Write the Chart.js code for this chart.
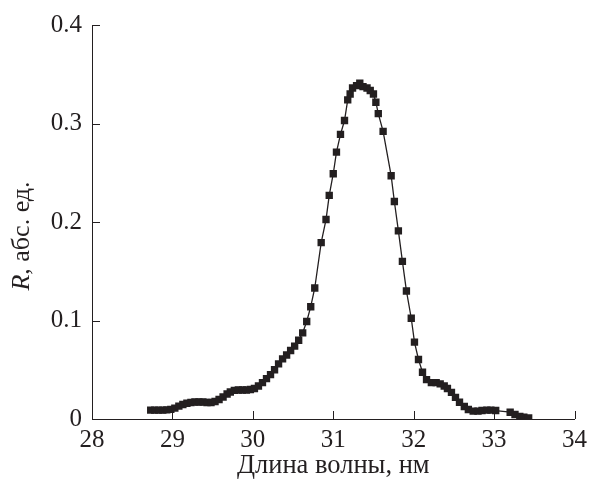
<!DOCTYPE html>
<html>
<head>
<meta charset="utf-8">
<script src="https://cdn.jsdelivr.net/npm/chart.js@4"></script>
<style>
  html, body { margin: 0; padding: 0; background: #fff; }
  #chart { display: block; }
</style>
</head>
<body>
<canvas id="chart" width="593" height="479"></canvas>
<script>
// wavelength, nm
var wavelength = [
    28.73, 28.78, 28.83, 28.88, 28.93, 28.98, 29.03, 29.08, 29.13, 29.18,
    29.23, 29.28, 29.33, 29.38, 29.43, 29.48, 29.53, 29.58, 29.63, 29.68,
    29.72, 29.77, 29.82, 29.87, 29.92, 29.97, 30.02, 30.07, 30.12, 30.17,
    30.22, 30.27, 30.32, 30.37, 30.42, 30.47, 30.52, 30.57, 30.62, 30.67,
    30.72, 30.77, 30.85, 30.91, 30.95, 31.00, 31.04, 31.09, 31.14, 31.18,
    31.21, 31.24, 31.29, 31.33, 31.37, 31.42, 31.46, 31.50, 31.53, 31.56,
    31.62, 31.72, 31.76, 31.81, 31.86, 31.91, 31.97, 32.01, 32.06, 32.11,
    32.16, 32.22, 32.28, 32.33, 32.38, 32.42, 32.47, 32.52, 32.57, 32.63,
    32.68, 32.74, 32.80, 32.85, 32.91, 32.96, 33.02, 33.20, 33.26, 33.32,
    33.37, 33.43
];
// reflectance R, arb. units
var reflectance = [
    0.009, 0.009, 0.009, 0.009, 0.0092, 0.0097, 0.011, 0.013, 0.0147, 0.016,
    0.0168, 0.0173, 0.0173, 0.0173, 0.0168, 0.0168, 0.0178, 0.0198, 0.0223, 0.0254,
    0.0274, 0.029, 0.0294, 0.0294, 0.0294, 0.030, 0.031, 0.0335, 0.037, 0.041,
    0.045, 0.050, 0.056, 0.061, 0.065, 0.0695, 0.074, 0.080, 0.0875, 0.099,
    0.114, 0.133, 0.179, 0.2025, 0.227, 0.249, 0.271, 0.289, 0.303, 0.324,
    0.330, 0.336, 0.3385, 0.341, 0.3375, 0.336, 0.3335, 0.330, 0.3216, 0.310,
    0.292, 0.247, 0.2208, 0.191, 0.160, 0.130, 0.1023, 0.078, 0.0604, 0.0475,
    0.040, 0.037, 0.037, 0.0357, 0.0335, 0.031, 0.027, 0.022, 0.017, 0.0127,
    0.0096, 0.008, 0.008, 0.0086, 0.009, 0.009, 0.0086, 0.0069, 0.0046, 0.0025,
    0.0018, 0.0012
];
var xTicks = [28, 29, 30, 31, 32, 33, 34];
var yTicks = [0, 0.1, 0.2, 0.3, 0.4];

var ink = '#231f20';
var serif = '"Liberation Serif", "DejaVu Serif", serif';

var points = wavelength.map(function (w, i) {
    return { x: w, y: reflectance[i] };
});

// small tick marks pointing into the plot, like the original figure
var inwardTicks = {
    id: 'inwardTicks',
    afterDraw: function (chart) {
        var ctx = chart.ctx;
        var xs = chart.scales.x, ys = chart.scales.y;
        ctx.save();
        ctx.strokeStyle = ink;
        ctx.lineWidth = 1;
        ctx.beginPath();
        xTicks.forEach(function (v) {
            var px = Math.round(xs.getPixelForValue(v)) + 0.5;
            ctx.moveTo(px, ys.bottom);
            ctx.lineTo(px, ys.bottom - 8);
        });
        yTicks.forEach(function (v) {
            var py = Math.round(ys.getPixelForValue(v)) + 0.5;
            ctx.moveTo(xs.left, py);
            ctx.lineTo(xs.left + 8, py);
        });
        ctx.stroke();
        ctx.restore();
    }
};

// y title with italic R
var yTitle = {
    id: 'yTitle',
    afterDraw: function (chart) {
        var ctx = chart.ctx;
        var area = chart.chartArea;
        var cy = (area.top + area.bottom) / 2 + 14;
        ctx.save();
        ctx.translate(22, cy);
        ctx.rotate(-Math.PI / 2);
        ctx.fillStyle = ink;
        ctx.textBaseline = 'middle';
        var italic = 'italic 26px ' + serif;
        var normal = '26px ' + serif;
        ctx.font = italic;
        var w1 = ctx.measureText('R').width;
        ctx.font = normal;
        var rest = ', абс. ед.';
        var w2 = ctx.measureText(rest).width;
        var x0 = -(w1 + w2) / 2;
        ctx.font = italic;
        ctx.fillText('R', x0, 0);
        ctx.font = normal;
        ctx.fillText(rest, x0 + w1, 0);
        ctx.restore();
    }
};

new Chart(document.getElementById('chart'), {
    type: 'line',
    data: {
        datasets: [{
            data: points,
            borderColor: ink,
            borderWidth: 1.3,
            pointStyle: 'rect',
            pointRadius: 5.2,
            pointBackgroundColor: ink,
            pointBorderWidth: 0,
            tension: 0
        }]
    },
    options: {
        responsive: false,
        animation: false,
        layout: { padding: { top: 24, right: 16, bottom: 0, left: 0 } },
        plugins: {
            legend: { display: false },
            tooltip: { enabled: false }
        },
        scales: {
            x: {
                type: 'linear',
                min: 28,
                max: 34,
                afterBuildTicks: function (s) {
                    s.ticks = xTicks.map(function (v) { return { value: v }; });
                },
                afterFit: function (s) { s.height = 60; },
                ticks: {
                    color: ink,
                    padding: 6,
                    font: { family: serif, size: 25 }
                },
                grid: { drawOnChartArea: false, drawTicks: false },
                border: { color: ink, width: 1 },
                title: {
                    display: true,
                    text: 'Длина волны, нм',
                    color: ink,
                    padding: 0,
                    font: { family: serif, size: 26.5, lineHeight: 1 }
                }
            },
            y: {
                type: 'linear',
                min: 0,
                max: 0.4,
                afterBuildTicks: function (s) {
                    s.ticks = yTicks.map(function (v) { return { value: v }; });
                },
                afterFit: function (s) { s.width = 92; },
                ticks: {
                    color: ink,
                    padding: 10,
                    font: { family: serif, size: 25 },
                    callback: function (v) { return String(Math.round(v * 10) / 10); }
                },
                grid: { drawOnChartArea: false, drawTicks: false },
                border: { color: ink, width: 1 }
            }
        }
    },
    plugins: [inwardTicks, yTitle]
});
</script>
</body>
</html>
